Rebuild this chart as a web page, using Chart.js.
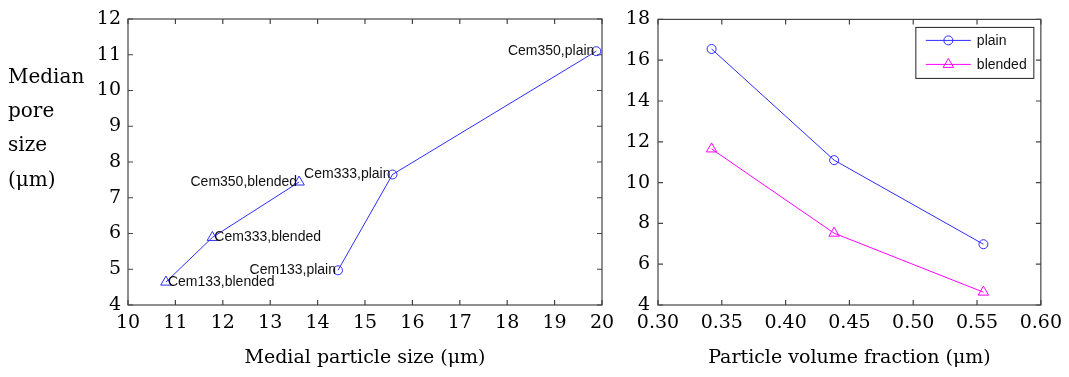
<!doctype html>
<html>
<head>
	<title>Median pore size</title>
	<script src="https://cdn.jsdelivr.net/npm/chart.js@4.4.0/dist/chart.umd.min.js"></script>
	<style>
		body { margin: 0; background: #fff; }
		canvas { position: absolute; left: 0; top: 0; }
	</style>
</head>
<body>
	<canvas id="left" width="1069" height="377"></canvas>
	<canvas id="right" width="1069" height="377"></canvas>
	<script>
		// left panel: median pore size vs medial particle size
		var plainSize = [14.43, 15.58, 19.88];
		var plainPore = [4.97, 7.65, 11.1];
		var plainNames = ['Cem133,plain', 'Cem333,plain', 'Cem350,plain'];
		var blendedSize = [10.80, 11.78, 13.61];
		var blendedPore = [4.64, 5.89, 7.44];
		var blendedNames = ['Cem133,blended', 'Cem333,blended', 'Cem350,blended'];
		var leftXTicks = [10, 11, 12, 13, 14, 15, 16, 17, 18, 19, 20];
		var leftYTicks = [4, 5, 6, 7, 8, 9, 10, 11, 12];
		var leftYTitle = ['Median', 'pore', 'size', '(\u03bcm)'];

		// right panel: median pore size vs particle volume fraction
		var volFraction = [0.342, 0.438, 0.555];
		var volPlain = [16.55, 11.1, 6.98];
		var volBlended = [11.65, 7.52, 4.63];
		var rightXTicks = [0.30, 0.35, 0.40, 0.45, 0.50, 0.55, 0.60];
		var rightYTicks = [4, 6, 8, 10, 12, 14, 16, 18];

		var serif = 'DejaVu Serif';
		var sans = 'Liberation Sans';
		var blue = 'rgb(45,45,255)';
		var magenta = 'rgb(255,0,255)';

		function pts(xs, ys) {
			return xs.map(function (x, i) { return {x: x, y: ys[i]}; });
		}

		function fixedTicks(list) {
			return function (scale) {
				scale.ticks = list.map(function (v) { return {value: v}; });
			};
		}

		// box round the plot with short inward ticks on every side
		var boxPlugin = {
			id: 'box',
			beforeDatasetsDraw: function (chart) {
				var ctx = chart.ctx, a = chart.chartArea;
				var xs = chart.scales.x, ys = chart.scales.y;
				ctx.save();
				ctx.strokeStyle = '#444';
				ctx.lineWidth = 1.2;
				ctx.strokeRect(a.left, a.top, a.right - a.left, a.bottom - a.top);
				ctx.beginPath();
				xs.ticks.forEach(function (t) {
					var px = xs.getPixelForValue(t.value);
					ctx.moveTo(px, a.bottom); ctx.lineTo(px, a.bottom - 5);
					ctx.moveTo(px, a.top); ctx.lineTo(px, a.top + 5);
				});
				ys.ticks.forEach(function (t) {
					var py = ys.getPixelForValue(t.value);
					ctx.moveTo(a.left, py); ctx.lineTo(a.left + 5, py);
					ctx.moveTo(a.right, py); ctx.lineTo(a.right - 5, py);
				});
				ctx.stroke();
				ctx.restore();
			}
		};

		var pointLabels = {
			id: 'pointLabels',
			afterDatasetsDraw: function (chart) {
				var ctx = chart.ctx;
				ctx.save();
				ctx.font = '14px "' + sans + '"';
				ctx.fillStyle = '#111';
				ctx.textBaseline = 'middle';
				chart.data.datasets.forEach(function (ds, i) {
					if (!ds.names) return;
					chart.getDatasetMeta(i).data.forEach(function (el, j) {
						var al = ds.labelAlign[j];
						ctx.textAlign = al;
						ctx.fillText(ds.names[j], el.x + (al === 'left' ? 2 : -2), el.y);
					});
				});
				ctx.restore();
			}
		};

		var leftTitle = {
			id: 'leftTitle',
			afterDraw: function (chart) {
				var ctx = chart.ctx, a = chart.chartArea;
				ctx.save();
				ctx.font = '20px "' + serif + '"';
				ctx.fillStyle = '#000';
				ctx.textAlign = 'left';
				ctx.textBaseline = 'alphabetic';
				leftYTitle.forEach(function (s, i) {
					ctx.fillText(s, 8, a.top + 64 + i * 34.2);
				});
				ctx.restore();
			}
		};

		function drawMarker(ctx, style, x, y, r) {
			ctx.beginPath();
			if (style === 'triangle') {
				ctx.moveTo(x, y - r);
				ctx.lineTo(x + r * 0.866, y + r / 2);
				ctx.lineTo(x - r * 0.866, y + r / 2);
				ctx.closePath();
			} else {
				ctx.arc(x, y, r, 0, Math.PI * 2);
			}
			ctx.stroke();
		}

		var boxLegend = {
			id: 'boxLegend',
			afterDraw: function (chart) {
				var ctx = chart.ctx, a = chart.chartArea;
				var right = a.right - 7, top = a.top + 8, w = 118, h = 51;
				var left = right - w;
				ctx.save();
				ctx.fillStyle = '#fff';
				ctx.fillRect(left, top, w, h);
				ctx.strokeStyle = '#222';
				ctx.lineWidth = 1;
				ctx.strokeRect(left, top, w, h);
				ctx.font = '14px "' + sans + '"';
				ctx.textAlign = 'left';
				ctx.textBaseline = 'middle';
				chart.data.datasets.forEach(function (ds, i) {
					var y = top + 13 + i * 24;
					ctx.strokeStyle = ds.borderColor;
					ctx.lineWidth = 1;
					ctx.beginPath();
					ctx.moveTo(left + 10, y); ctx.lineTo(left + 55, y);
					ctx.stroke();
					drawMarker(ctx, ds.pointStyle, left + 32.5, y, ds.pointStyle === 'triangle' ? 6 : 4.5);
					ctx.fillStyle = '#111';
					ctx.fillText(ds.label, left + 61, y + 1);
				});
				ctx.restore();
			}
		};

		function axisX(min, max, list, fmt, title) {
			return {
				type: 'linear', min: min, max: max,
				afterBuildTicks: fixedTicks(list),
				afterFit: function (s) { s.height = 72; },
				grid: {display: false, drawTicks: false},
				border: {display: false},
				ticks: {
					autoSkip: false, maxRotation: 0, padding: 7, color: '#000',
					font: {family: serif, size: 19},
					callback: fmt
				},
				title: {
					display: true, text: title, color: '#000',
					font: {family: serif, size: 19},
					padding: {top: 0, bottom: 8}
				}
			};
		}

		function axisY(min, max, list, width, pad) {
			return {
				type: 'linear', min: min, max: max,
				afterBuildTicks: fixedTicks(list),
				afterFit: function (s) { s.width = width; },
				grid: {display: false, drawTicks: false},
				border: {display: false},
				ticks: {
					autoSkip: false, padding: pad, color: '#000',
					font: {family: serif, size: 19}
				}
			};
		}

		window.onload = function () {
			new Chart(document.getElementById('left').getContext('2d'), {
				type: 'scatter',
				data: {
					datasets: [{
						label: 'plain',
						data: pts(plainSize, plainPore),
						names: plainNames,
						labelAlign: ['right', 'right', 'right'],
						showLine: true,
						borderColor: blue, borderWidth: 1,
						pointStyle: 'circle', pointRadius: 4.5,
						pointBorderColor: blue, pointBackgroundColor: 'rgba(0,0,0,0)'
					}, {
						label: 'blended',
						data: pts(blendedSize, blendedPore),
						names: blendedNames,
						labelAlign: ['left', 'left', 'right'],
						showLine: true,
						borderColor: blue, borderWidth: 1,
						pointStyle: 'triangle', pointRadius: 6,
						pointBorderColor: blue, pointBackgroundColor: 'rgba(0,0,0,0)'
					}]
				},
				options: {
					responsive: false, animation: false, devicePixelRatio: 1,
					layout: {padding: {left: 0, right: 467, top: 19, bottom: 0}},
					plugins: {legend: {display: false}, tooltip: {enabled: false}},
					scales: {
						x: axisX(10, 20, leftXTicks, function (v) { return String(v); }, 'Medial particle size (\u03bcm)'),
						y: axisY(4, 12, leftYTicks, 128, 7)
					}
				},
				plugins: [boxPlugin, pointLabels, leftTitle]
			});

			new Chart(document.getElementById('right').getContext('2d'), {
				type: 'scatter',
				data: {
					datasets: [{
						label: 'plain',
						data: pts(volFraction, volPlain),
						showLine: true,
						borderColor: blue, borderWidth: 1,
						pointStyle: 'circle', pointRadius: 4.5,
						pointBorderColor: blue, pointBackgroundColor: 'rgba(0,0,0,0)'
					}, {
						label: 'blended',
						data: pts(volFraction, volBlended),
						showLine: true,
						borderColor: magenta, borderWidth: 1,
						pointStyle: 'triangle', pointRadius: 6,
						pointBorderColor: magenta, pointBackgroundColor: 'rgba(0,0,0,0)'
					}]
				},
				options: {
					responsive: false, animation: false, devicePixelRatio: 1,
					layout: {padding: {left: 608, right: 26, top: 16, bottom: 0}},
					plugins: {legend: {display: false}, tooltip: {enabled: false}},
					scales: {
						x: axisX(0.3, 0.6, rightXTicks, function (v) { return v.toFixed(2); }, 'Particle volume fraction (\u03bcm)'),
						y: axisY(4, 18, rightYTicks, 50, 8)
					}
				},
				plugins: [boxPlugin, boxLegend]
			});
		};
	</script>
</body>
</html>
